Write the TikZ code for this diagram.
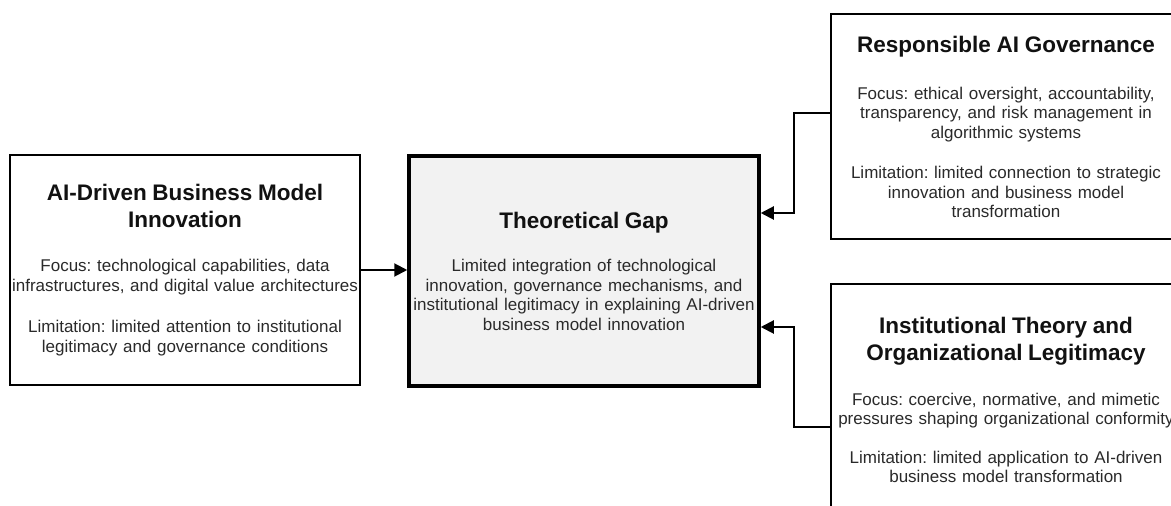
\documentclass[tikz,border=0pt]{standalone}
\usepackage{fontspec}
\setmainfont{Liberation Sans}
\usetikzlibrary{arrows.meta}
\frenchspacing
\newcommand{\titlefont}{\fontsize{22.5}{27}\selectfont\bfseries\color{titletext}}
\newcommand{\bodyfont}{\fontsize{17}{19.5}\selectfont}
\definecolor{gapfill}{HTML}{F2F2F2}
\definecolor{bodytext}{HTML}{2A2A2A}
\definecolor{titletext}{HTML}{111111}

\begin{document}
\begin{tikzpicture}[x=1pt, y=1pt,
  every node/.style={inner sep=0pt, outer sep=0pt, text width=350pt, align=center, font=\bodyfont, text=bodytext},
  box/.style={draw=black, line width=2pt, fill=white, minimum height=230pt},
  gapbox/.style={draw=black, line width=3.5pt, fill=gapfill, outer sep=1.75pt, minimum height=230pt},
  link/.style={line width=2pt, -{Triangle[length=13pt,width=13pt]}}]
\clip (0,0) rectangle (1171,506);

\node[box] (lbox) at (185,236) {{\titlefont AI-Driven Business Model\\Innovation\par}\vspace{25pt}
Focus: technological capabilities, data\\infrastructures, and digital value architectures\par\vspace{22pt}
Limitation: limited attention to institutional\\legitimacy and governance conditions};

\node[gapbox] (gap) at (584,235) {{\titlefont Theoretical Gap\par}\vspace{24pt}
Limited integration of technological\\innovation, governance mechanisms, and\\institutional legitimacy in explaining AI-driven\\business model innovation};

\node[box, minimum height=225pt] (rbox) at (1006,379) {{\titlefont Responsible AI Governance\par}\vspace{27pt}
Focus: ethical oversight, accountability,\\transparency, and risk management in\\algorithmic systems\par\vspace{21pt}
Limitation: limited connection to strategic\\innovation and business model\\transformation};

\node[box, minimum height=232pt] (ibox) at (1006,106) {{\titlefont Institutional Theory and\\Organizational Legitimacy\par}\vspace{25pt}
Focus: coercive, normative, and mimetic\\pressures shaping organizational conformity\par\vspace{19pt}
Limitation: limited application to AI-driven\\business model transformation};

\draw[link] (lbox.east) -- (lbox.east -| gap.west);
\draw[link] ([yshift=14]rbox.west) -- ++(-37,0) |- ([yshift=58]gap.east);
\draw[link] ([yshift=-27]ibox.west) -- ++(-37,0) |- ([yshift=-56]gap.east);
\end{tikzpicture}
\end{document}
